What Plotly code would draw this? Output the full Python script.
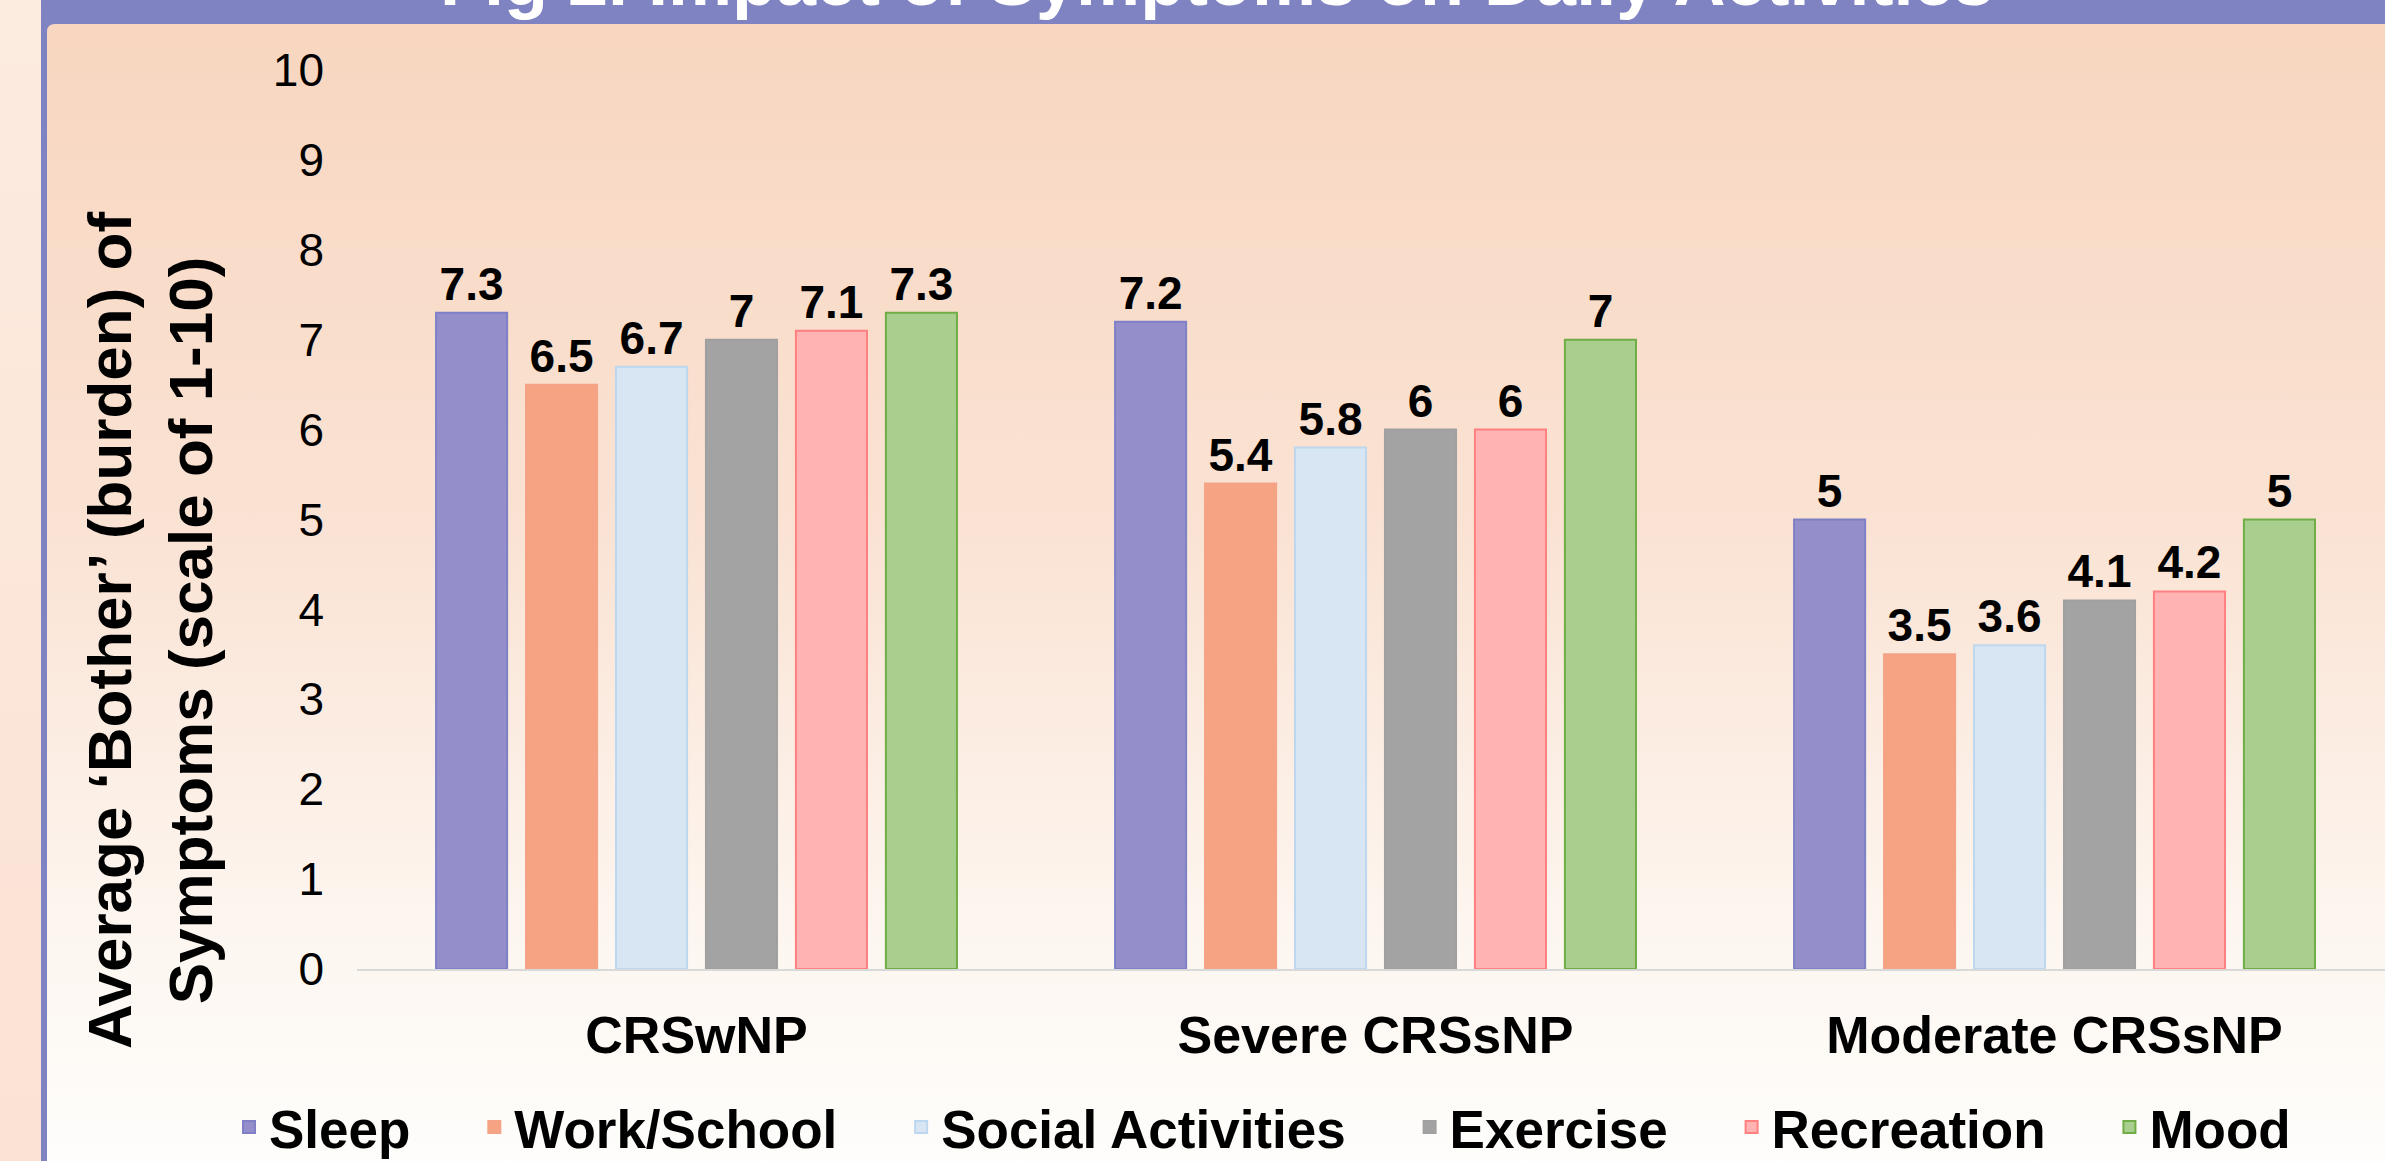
import plotly.graph_objects as go
import urllib.parse

# ---------------- data ----------------
categories = ["CRSwNP", "Severe CRSsNP", "Moderate CRSsNP"]
series_names = ["Sleep", "Work/School", "Social Activities", "Exercise", "Recreation", "Mood"]
sleep = [7.3, 7.2, 5]
work_school = [6.5, 5.4, 3.5]
social = [6.7, 5.8, 3.6]
exercise = [7, 6, 4.1]
recreation = [7.1, 6, 4.2]
mood = [7.3, 7, 5]
y_ticks = [0, 1, 2, 3, 4, 5, 6, 7, 8, 9, 10]
title_text = "Fig 2. Impact of Symptoms on Daily Activities"
y_title = "Average \u2018Bother\u2019 (burden) of<br>Symptoms (scale of 1-10)"

series_values = [sleep, work_school, social, exercise, recreation, mood]
fill_colors = ["#948fca", "#f6a383", "#d7e6f2", "#a3a3a3", "#ffb3b3", "#a9cf8e"]
line_colors = ["#7f80c6", "#f4a386", "#bdd7ee", "#a0a0a0", "#ff8080", "#70ad47"]

W, H = 2385, 1161
FONT = "Liberation Sans, Arial, sans-serif"

# pixel helpers (margins are zero, so paper == whole figure)
def px_x(x):
    return x / W

def px_y(y):
    return 1 - y / H

fig = go.Figure()
for name, vals, fc, lc in zip(series_names, series_values, fill_colors, line_colors):
    fig.add_trace(go.Bar(
        x=categories, y=vals, name=name + "\u00a0" * 4,
        marker=dict(color=fc, line=dict(color=lc, width=2)),
        texttemplate="%{y}", textposition="outside",
        textfont=dict(family=FONT, size=46, color="black", weight="bold"),
        cliponaxis=False,
    ))

# background (slide look): left strip, purple frame, banner, gradient panel
svg = f"""<svg xmlns='http://www.w3.org/2000/svg' width='{W}' height='{H}' viewBox='0 0 {W} {H}' preserveAspectRatio='none'>
<defs>
<linearGradient id='g' x1='0' y1='0' x2='0' y2='1'>
<stop offset='0' stop-color='#f8d6c0'/>
<stop offset='0.45' stop-color='#fae3d4'/>
<stop offset='0.8' stop-color='#fdf6f0'/>
<stop offset='1' stop-color='#fefdfb'/>
</linearGradient>
<linearGradient id='s' x1='0' y1='0' x2='0' y2='1'>
<stop offset='0' stop-color='#fcebdf'/>
<stop offset='1' stop-color='#fbe2d4'/>
</linearGradient>
</defs>
<rect x='0' y='0' width='{W}' height='{H}' fill='url(#s)'/>
<rect x='41' y='0' width='{W-41}' height='{H}' fill='#8083c2'/>
<path d='M47,{H} L47,32 Q47,24 55,24 L{W},24 L{W},{H} Z' fill='url(#g)'/>
</svg>"""
uri = "data:image/svg+xml;charset=utf-8," + urllib.parse.quote(svg)

fig.add_layout_image(dict(
    source=uri, xref="paper", yref="paper", x=0, y=1, sizex=1, sizey=1,
    sizing="stretch", xanchor="left", yanchor="top", layer="below",
))

# title (cut off by top of page, as in the reference)
fig.add_annotation(
    text=title_text, xref="paper", yref="paper", x=px_x(1217), y=px_y(22),
    xanchor="center", yanchor="bottom", showarrow=False,
    font=dict(family=FONT, size=72, color="white", weight="bold"),
)

# y-axis title as rotated annotation
fig.add_annotation(
    text=y_title, xref="paper", yref="paper", x=px_x(150), y=px_y(631),
    xanchor="center", yanchor="middle", showarrow=False, textangle=-90,
    font=dict(family=FONT, size=62, color="black", weight="bold"),
)

fig.update_layout(
    width=W, height=H,
    margin=dict(l=0, r=0, t=0, b=0, autoexpand=False),
    paper_bgcolor="rgba(0,0,0,0)", plot_bgcolor="rgba(0,0,0,0)",
    barmode="group", bargap=0.205, bargroupgap=0.21,
    font=dict(family=FONT, color="black"),
    showlegend=True,
    legend=dict(
        orientation="h", xanchor="center", yanchor="middle",
        x=px_x(1292), y=px_y(1127),
        font=dict(family=FONT, size=53, color="black", weight="bold"),
        bgcolor="rgba(0,0,0,0)", itemclick=False,
    ),
    xaxis=dict(
        domain=[px_x(357), 1], range=[-0.5, 2.4867],
        showline=True, linecolor="#d9d9d9", linewidth=2,
        showgrid=False, zeroline=False, ticks="", automargin=False,
        tickfont=dict(family=FONT, size=52, color="black", weight="bold"),
        ticklabelstandoff=20,
    ),
    yaxis=dict(
        domain=[px_y(969), px_y(70)], range=[0, 10],
        tickvals=y_ticks, showgrid=False, zeroline=False, showline=False,
        ticks="", automargin=False,
        tickfont=dict(family=FONT, size=46, color="black"),
        ticklabelstandoff=32,
    ),
)

fig.write_html(
    "out.html",
    config={"displayModeBar": False},
    post_script="document.body.style.margin='0';document.body.style.overflow='hidden';",
)
